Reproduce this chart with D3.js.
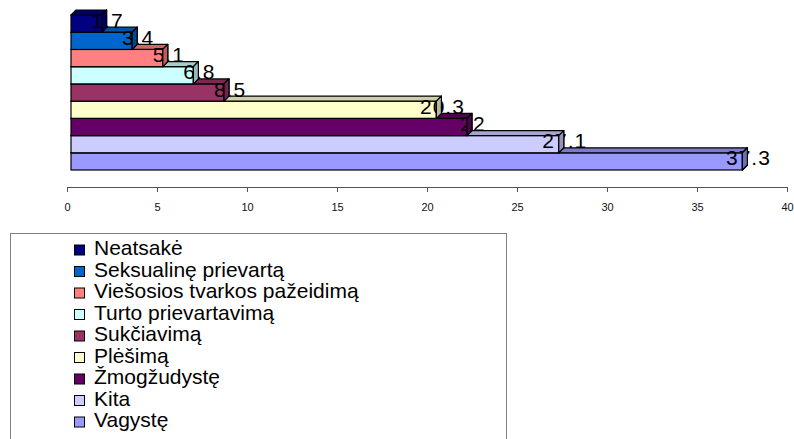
<!DOCTYPE html>
<html>
<head>
<meta charset="utf-8">
<script src="https://cdn.jsdelivr.net/npm/d3@7"></script>
<style>
  html, body { margin: 0; padding: 0; background: #fff; }
  svg { display: block; }
  text { font-family: "Liberation Sans", Arial, sans-serif; }
</style>
</head>
<body>
<script>
const categories = ["Neatsakė", "Seksualinę prievartą", "Viešosios tvarkos pažeidimą", "Turto prievartavimą", "Sukčiavimą", "Plėšimą", "Žmogžudystę", "Kita", "Vagystę"];
const values = [1.7, 3.4, 5.1, 6.8, 8.5, 20.3, 22, 27.1, 37.3];
const colors = ["#000080", "#0066CC", "#FF8080", "#CCFFFF", "#993366", "#FFFFCC", "#660066", "#CCCCFF", "#9999FF"];
const tickValues = [0, 5, 10, 15, 20, 25, 30, 35, 40];

const W = 794, H = 439;
const svg = d3.select("body").append("svg").attr("width", W).attr("height", H);

const x = d3.scaleLinear().domain([0, 40]).range([67, 787]);
const front = 4;           // front plane shift of the 3D bars
const dx = 5, dy = -5;     // depth of the 3D bars
const xb = v => x(v) + front;
const y = d3.scaleBand().domain(categories).range([15, 170]).padding(0);

const data = categories.map((c, i) => ({ c, v: values[i], col: colors[i] }));
const order = data.slice().reverse(); // draw bottom bars first

// axis
const axis = d3.axisBottom(x).tickValues(tickValues).tickSize(5).tickSizeOuter(0).tickPadding(11);
const ax = svg.append("g").attr("transform", "translate(0,187)").call(axis);
ax.select(".domain").attr("stroke", "#555");
ax.selectAll(".tick line").attr("stroke", "#555");
ax.selectAll(".tick text").attr("font-size", 11).attr("fill", "#111")
  .attr("font-family", "'Liberation Sans', Arial, sans-serif");

const bars = svg.append("g");
const pt = p => p.map(q => q.join(",")).join(" ");

order.forEach(d => {
  const x0 = xb(0), x1 = xb(d.v), y0 = y(d.c), y1 = y0 + y.bandwidth();
  const g = bars.append("g");
  g.append("rect").attr("x", x0).attr("y", y0).attr("width", x1 - x0).attr("height", y1 - y0)
    .attr("fill", d.col).attr("stroke", "#000").attr("stroke-width", 1.2);
  g.append("polygon").attr("points", pt([[x0, y0], [x0 + dx, y0 + dy], [x1 + dx, y0 + dy], [x1, y0]]))
    .attr("fill", d3.color(d.col).darker(0.6)).attr("stroke", "#000").attr("stroke-width", 1.2)
    .attr("stroke-linejoin", "round");
  g.append("polygon").attr("points", pt([[x1, y0], [x1 + dx, y0 + dy], [x1 + dx, y1 + dy], [x1, y1]]))
    .attr("fill", d3.color(d.col).darker(0.9)).attr("stroke", "#000").attr("stroke-width", 1.2)
    .attr("stroke-linejoin", "round");
});

// value labels
svg.append("g").selectAll("text").data(data).join("text")
  .attr("x", d => xb(d.v) + 6)
  .attr("y", d => y(d.c) + y.bandwidth() / 2 + 4)
  .attr("text-anchor", "middle")
  .attr("font-size", 21)
  .attr("letter-spacing", 1)
  .attr("fill", "#000")
  .text(d => String(d.v));

// right faces redrawn over the labels (as in the original rendering)
const over = svg.append("g");
order.forEach(d => {
  const x1 = xb(d.v), y0 = y(d.c), y1 = y0 + y.bandwidth();
  over.append("polygon").attr("points", pt([[x1, y0], [x1 + dx, y0 + dy], [x1 + dx, y1 + dy], [x1, y1]]))
    .attr("fill", d3.color(d.col).darker(0.9)).attr("stroke", "#000").attr("stroke-width", 1.2)
    .attr("stroke-linejoin", "round");
});

// legend
const lg = svg.append("g");
lg.append("rect").attr("x", 10.5).attr("y", 233.5).attr("width", 496).attr("height", 230)
  .attr("fill", "#fff").attr("stroke", "#808080").attr("stroke-width", 1);
const ly = d3.scalePoint().domain(categories).range([250, 422]);
const items = lg.selectAll("g.item").data(data).join("g").attr("class", "item")
  .attr("transform", d => `translate(0,${ly(d.c)})`);
items.append("rect").attr("x", 74.5).attr("y", -5).attr("width", 10).attr("height", 10)
  .attr("fill", d => d.col).attr("stroke", "#000").attr("stroke-width", 1);
items.append("text").attr("x", 94).attr("y", 5).attr("font-size", 21).attr("fill", "#000")
  .text(d => d.c);
</script>
</body>
</html>
